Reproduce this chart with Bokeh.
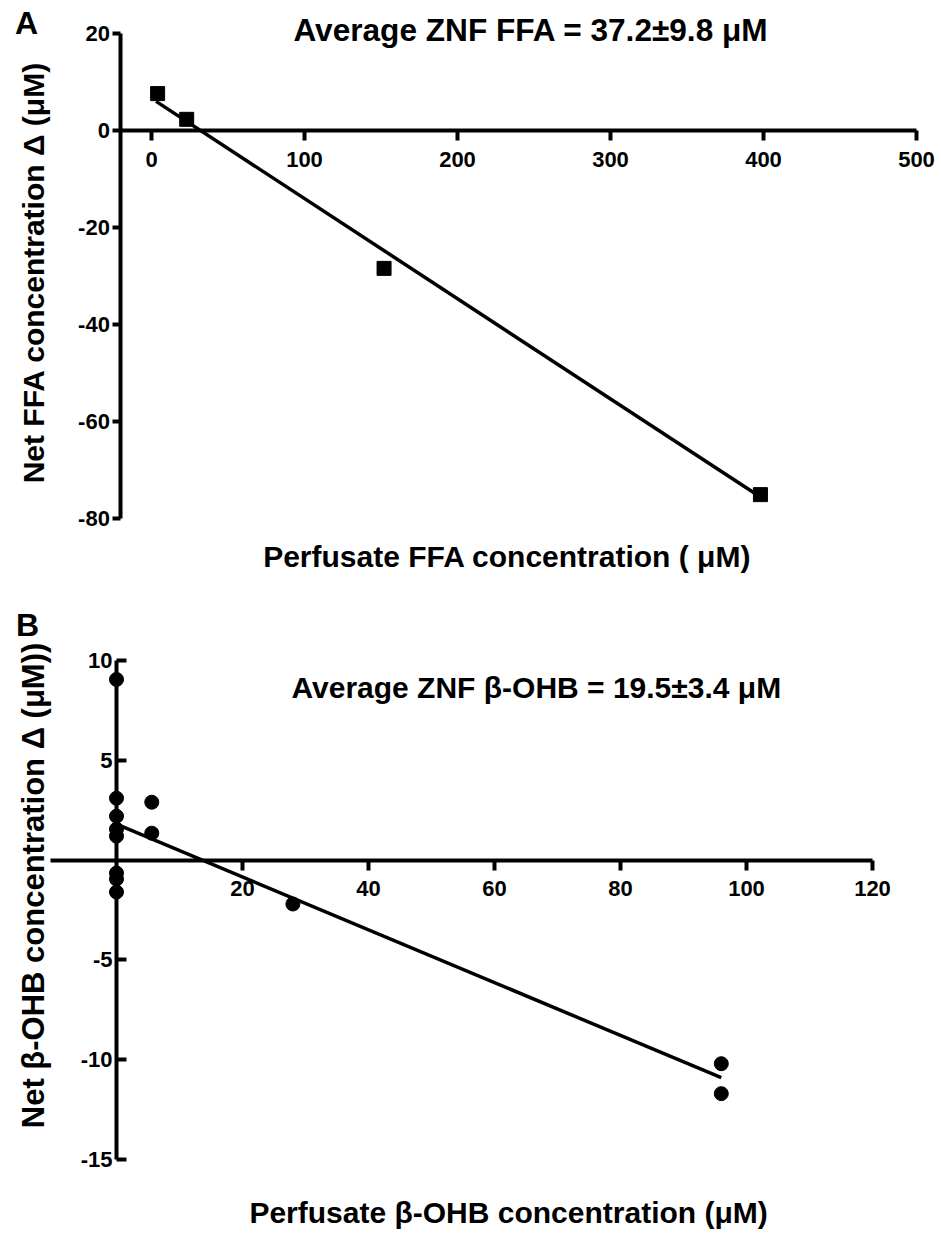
import math
from bokeh.plotting import figure
from bokeh.layouts import column
from bokeh.models import Range1d, FixedTicker, Label, LinearAxis
from bokeh.embed import file_html
from bokeh.resources import INLINE

FONT = "Liberation Sans"

# ---------------- Panel A data (FFA) ----------------
a_x = [4, 23, 152, 398]
a_y = [7.6, 2.3, -28.4, -75.0]
a_fit_x = [3, 397]
a_fit_y = [6.0, -75.3]
a_xticks = [0, 100, 200, 300, 400, 500]
a_yticks = [-80, -60, -40, -20, 0, 20]
a_xbounds = (-20, 500)
a_ybounds = (-80, 20)
a_title = "Average ZNF FFA  = 37.2\u00b19.8 \u03bcM"
a_xlabel = "Perfusate FFA concentration  ( \u03bcM)"
a_ylabel = "Net FFA  concentration \u0394 (\u03bcM)"

# ---------------- Panel B data (beta-OHB) ----------------
b_x = [0, 0, 0, 0, 0, 0, 0, 0, 5.6, 5.6, 28, 96, 96]
b_y = [9.05, 3.1, 2.2, 1.55, 1.2, -0.65, -0.95, -1.6, 2.9, 1.35, -2.2, -10.2, -11.7]
b_fit_x = [0, 96]
b_fit_y = [1.8, -10.9]
b_xticks = [20, 40, 60, 80, 100, 120]
b_yticks = [-15, -10, -5, 5, 10]
b_xbounds = (-10.5, 120)
b_ybounds = (-15, 10)
b_title = "Average ZNF \u03b2-OHB  = 19.5\u00b13.4 \u03bcM"
b_xlabel = "Perfusate \u03b2-OHB concentration  (\u03bcM)"
b_ylabel = "Net \u03b2-OHB concentration \u0394 (\u03bcM))"

W = 940
HA = 592
HB = 644
LW = 4
TICK_FS = "22px"


def make_axis(p, side, loc, bounds, ticks, t_out, t_in, standoff):
    ax = LinearAxis(fixed_location=loc, bounds=bounds, ticker=FixedTicker(ticks=ticks))
    ax.axis_line_width = LW
    ax.axis_line_color = "black"
    ax.major_tick_line_width = LW
    ax.major_tick_line_color = "black"
    ax.major_tick_out = t_out
    ax.major_tick_in = t_in
    ax.minor_tick_line_color = None
    ax.major_label_standoff = standoff
    ax.major_label_text_font = FONT
    ax.major_label_text_font_style = "bold"
    ax.major_label_text_font_size = TICK_FS
    ax.major_label_text_color = "black"
    ax.major_label_overrides = {t: str(t) for t in ticks}
    p.add_layout(ax, side)
    return ax


def add_text(p, x, y, text, size, angle=0.0):
    p.add_layout(Label(x=x, y=y, text=text, angle=angle,
                       text_font=FONT, text_font_style="bold",
                       text_font_size=size, text_color="black",
                       text_align="center", text_baseline="middle"))


def new_fig(h, xr, yr):
    p = figure(width=W, height=h, x_range=Range1d(*xr), y_range=Range1d(*yr),
               output_backend="svg", toolbar_location=None,
               x_axis_location=None, y_axis_location=None,
               min_border=0)
    p.outline_line_color = None
    p.grid.visible = False
    return p


# ---------------- Figure A ----------------
# pixel mapping of panel A: x_px = 151 + 1.53*x ; y_px = 130 - 4.855*y
ax0, axs, ay0, ays = 151.0, 1.53, 130.0, 4.855
pa = new_fig(HA, ((0 - ax0) / axs, (W - ax0) / axs), ((ay0 - HA) / ays, ay0 / ays))
make_axis(pa, "below", 0, a_xbounds, a_xticks, 10, 0, 11)
make_axis(pa, "left", a_xbounds[0], a_ybounds, a_yticks, 8, 0, 3)

pa.line(a_fit_x, a_fit_y, line_width=3.5, line_color="black")
pa.scatter(a_x, a_y, marker="square", size=14, color="black")

add_text(pa, -81.7, 22.2, "A", "32px")
add_text(pa, 251, 20.6, a_title, "31.6px")
add_text(pa, 235.3, -87.7, a_xlabel, "30px")
add_text(pa, -77.1, -28.4, a_ylabel, "30px", angle=math.pi / 2)

# ---------------- Figure B ----------------
# pixel mapping of panel B (relative to its own canvas top at HA):
# x_px = 116 + 6.3*x ; y_px = (859.6 - HA) - 19.96*y
bx0, bxs, by0, bys = 116.0, 6.3, 859.6 - HA, 19.96
pb = new_fig(HB, ((0 - bx0) / bxs, (W - bx0) / bxs), ((by0 - HB) / bys, by0 / bys))
make_axis(pb, "below", 0, b_xbounds, b_xticks, 10, 0, 11)
make_axis(pb, "left", 0, b_ybounds, b_yticks, 0, 10, 4)

pb.line(b_fit_x, b_fit_y, line_width=3.5, line_color="black")
pb.scatter(b_x, b_y, marker="circle", size=14, color="black")

add_text(pb, -14.1, 11.8, "B", "32px")
add_text(pb, 67.3, 8.65, b_title, "30px")
add_text(pb, 62.9, -17.65, b_xlabel, "30px")
add_text(pb, -13.2, -1.27, b_ylabel, "31px", angle=math.pi / 2)

layout = column(pa, pb)
open("out.html", "w").write(file_html(layout, INLINE))
